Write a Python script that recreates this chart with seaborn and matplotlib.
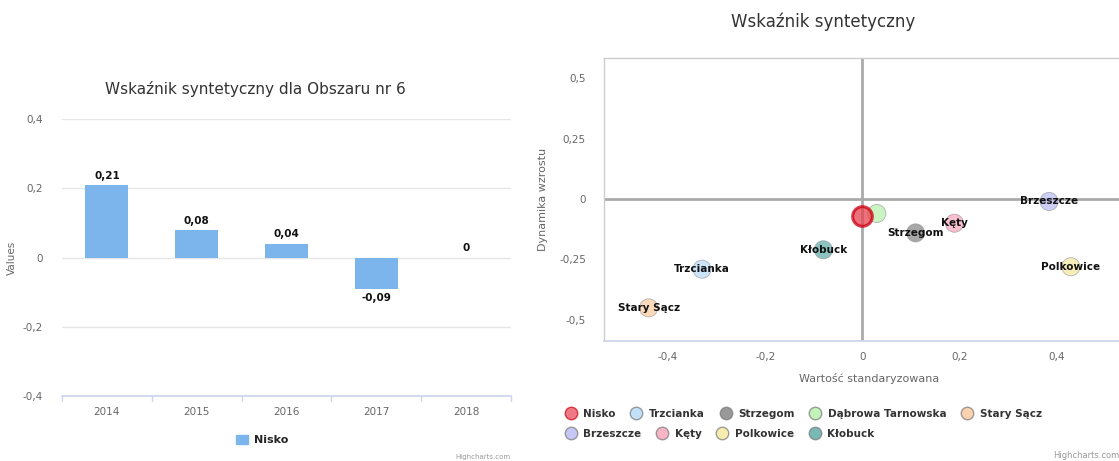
import numpy as np
import matplotlib
matplotlib.use('Agg')
import matplotlib.pyplot as plt
import seaborn as sns
import pandas as pd
from matplotlib.ticker import FuncFormatter, FixedLocator
from matplotlib.lines import Line2D
from matplotlib.patches import Patch

# data - left chart
years = ['2014', '2015', '2016', '2017', '2018']
values = [0.21, 0.08, 0.04, -0.09, 0.0]
value_labels = ['0,21', '0,08', '0,04', '-0,09', '0']

# data - right chart
towns = ['Nisko', 'Trzcianka', 'Strzegom', 'Dąbrowa Tarnowska', 'Stary Sącz',
         'Brzeszcze', 'Kęty', 'Polkowice', 'Kłobuck']
x_std = [0.0, -0.33, 0.11, 0.03, -0.44, 0.385, 0.19, 0.43, -0.08]
y_dyn = [-0.07, -0.29, -0.14, -0.06, -0.45, -0.01, -0.10, -0.28, -0.21]
town_colors = ['#e8414f', '#a9d3f5', '#6e6e6e', '#a8ef9c', '#f9c08e',
               '#aeb0f2', '#f496ae', '#f1e48c', '#3f9c96']
show_label = [False, True, True, False, True, True, True, True, True]

sns.set_theme(style='white')
plt.rcParams['font.family'] = ['DejaVu Sans']

def comma(v, pos=None):
    if abs(v) < 1e-9:
        return '0'
    s = ('%.2f' % v).rstrip('0').rstrip('.')
    return s.replace('.', ',')

fig = plt.figure(figsize=(11.19, 4.61), dpi=100)
W, H = 1119, 461

# ---------------- left: bar chart
ax1 = fig.add_axes([62 / W, (H - 396) / H, 449 / W, 277 / H])
df1 = pd.DataFrame({'year': years, 'value': values})
sns.barplot(data=df1, x='year', y='value', color='#7cb5ec', width=0.48,
            saturation=1, linewidth=0, ax=ax1)
ax1.set_ylim(-0.4, 0.4)
ax1.set_xlim(-0.5, 4.5)
ax1.yaxis.set_major_locator(FixedLocator([-0.4, -0.2, 0, 0.2, 0.4]))
ax1.yaxis.set_major_formatter(FuncFormatter(comma))
ax1.grid(axis='y', color='#e6e6e6', lw=1)
ax1.set_axisbelow(True)
for s in ['top', 'right', 'left']:
    ax1.spines[s].set_visible(False)
ax1.spines['bottom'].set_color('#ccd6eb')
ax1.tick_params(axis='y', colors='#666666', labelsize=7.5, length=0, pad=14)
ax1.tick_params(axis='x', colors='#666666', labelsize=7.5, length=0, pad=8)
for b in np.arange(-0.5, 5.0, 1.0):
    ax1.plot([b, b], [-0.4, -0.415], color='#ccd6eb', lw=1, clip_on=False)
ax1.set_xlabel('')
ax1.set_ylabel('Values', color='#666666', fontsize=7.5, labelpad=4)
for i, (v, lab) in enumerate(zip(values, value_labels)):
    off = 0.012 if v >= 0 else -0.012
    ax1.text(i, v + off, lab, ha='center', va='bottom' if v >= 0 else 'top',
             fontsize=7.5, fontweight='bold', color='#111111')
fig.text(255 / W, (H - 89) / H, 'Wskaźnik syntetyczny dla Obszaru nr 6',
         ha='center', va='center', fontsize=11, color='#333333')
ax1.legend(handles=[Patch(color='#7cb5ec', label='Nisko')], loc='center',
           bbox_to_anchor=(262 / W, (H - 440) / H), bbox_transform=fig.transFigure,
           frameon=False, handlelength=1.1, handleheight=0.9, handletextpad=0.5,
           prop={'size': 8, 'weight': 'bold'})
fig.text(511 / W, (H - 457) / H, 'Highcharts.com', ha='right', va='center',
         fontsize=5, color='#999999')

# ---------------- right: scatter
x0, x1 = -0.532, 0.56
ax2 = fig.add_axes([604 / W, (H - 341) / H, 530 / W, 283 / H])
df2 = pd.DataFrame({'town': towns, 'x': x_std, 'y': y_dyn})
pal = dict(zip(towns, town_colors))
ax2.axvline(0, color='#aaaaaa', lw=2, zorder=1)
ax2.axhline(0, color='#aaaaaa', lw=2, zorder=1)
sns.scatterplot(data=df2[df2.town != 'Nisko'], x='x', y='y', hue='town',
                palette=pal, s=170, alpha=0.6, edgecolor='#888888',
                linewidth=0.6, legend=False, ax=ax2, zorder=3)
sns.scatterplot(data=df2[df2.town == 'Nisko'], x='x', y='y', hue='town',
                palette=pal, s=200, alpha=0.75, edgecolor='#cc0011',
                linewidth=2.2, legend=False, ax=ax2, zorder=4)
for t, xv, yv, sl in zip(towns, x_std, y_dyn, show_label):
    if sl:
        ax2.text(xv, yv, t, ha='center', va='center', fontsize=7.5,
                 fontweight='bold', color='#111111', zorder=5)
ax2.set_xlim(x0, x1)
ax2.set_ylim(-0.587, 0.583)
ax2.xaxis.set_major_locator(FixedLocator([-0.4, -0.2, 0, 0.2, 0.4]))
ax2.yaxis.set_major_locator(FixedLocator([-0.5, -0.25, 0, 0.25, 0.5]))
ax2.xaxis.set_major_formatter(FuncFormatter(comma))
ax2.yaxis.set_major_formatter(FuncFormatter(comma))
for s in ['top', 'left', 'right']:
    ax2.spines[s].set_color('#cccccc')
    ax2.spines[s].set_linewidth(1)
ax2.spines['bottom'].set_color('#ccd6eb')
ax2.tick_params(axis='x', colors='#666666', labelsize=7.5, length=5,
                color='#ccd6eb', pad=3)
ax2.tick_params(axis='y', colors='#666666', labelsize=7.5, length=0, pad=13)
ax2.set_xlabel('Wartość standaryzowana', color='#666666', fontsize=8, labelpad=8)
ax2.set_ylabel('Dynamika wzrostu', color='#666666', fontsize=8, labelpad=8)
fig.text(823 / W, (H - 22) / H, 'Wskaźnik syntetyczny', ha='center',
         va='center', fontsize=12, color='#333333')


def handle(t, c):
    ec = '#cc0011' if t == 'Nisko' else '#777777'
    return Line2D([], [], marker='o', ls='', markersize=9, markerfacecolor=c,
                  markeredgecolor=ec, alpha=0.7, label=t)


rows = [towns[:5], towns[5:]]
ys = [414, 434]
for row, yy in zip(rows, ys):
    hs = [handle(t, pal[t]) for t in row]
    lg = fig.legend(handles=hs, loc='center left', ncol=len(row),
                    bbox_to_anchor=(556 / W, (H - yy) / H), frameon=False,
                    handletextpad=0.2, columnspacing=1.0, borderaxespad=0,
                    prop={'size': 7.5, 'weight': 'bold'})
    for txt in lg.get_texts():
        txt.set_color('#333333')
fig.text(1119 / W, (H - 455) / H, 'Highcharts.com', ha='right', va='center',
         fontsize=6, color='#999999')

fig.savefig('out.png', dpi=100)
